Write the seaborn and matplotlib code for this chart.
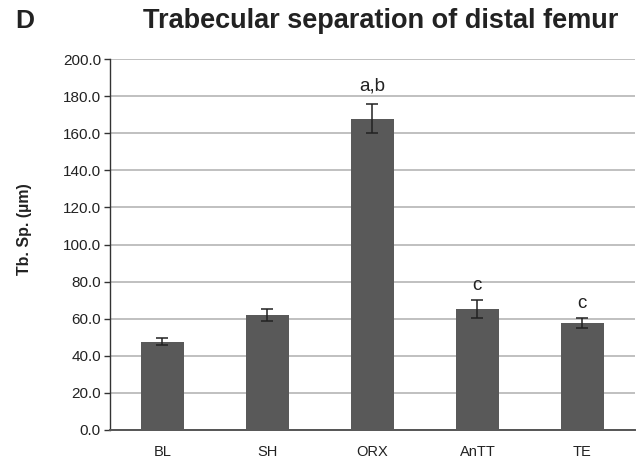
import numpy as np
import pandas as pd
import matplotlib
matplotlib.use("Agg")
import matplotlib.pyplot as plt
import seaborn as sns

# data
groups = ["BL", "SH", "ORX", "AnTT", "TE"]
tb_sp = [47.6, 62.0, 167.9, 65.3, 57.7]
sem = [2.0, 3.0, 7.7, 5.0, 2.8]
marks = ["", "", "a,b", "c", "c"]

sns.set_theme(style="white")
plt.rcParams['font.family'] = ['Liberation Sans', 'DejaVu Sans']

df = pd.DataFrame({"group": groups, "tbsp": tb_sp, "sem": sem})

fig = plt.figure(figsize=(6.37, 4.59), dpi=100)
ax = fig.add_axes([0.1727, 0.0632, 0.824, 0.808])

sns.barplot(data=df, x="group", y="tbsp", color="#595959", saturation=1,
            width=0.41, errorbar=None, linewidth=0, ax=ax, zorder=3)
ax.errorbar(np.arange(len(groups)), df["tbsp"], yerr=df["sem"], fmt="none",
            ecolor="#222222", elinewidth=1.1, capsize=4.2, capthick=1.1, zorder=4)

# significance letters
for i, (v, e, m) in enumerate(zip(tb_sp, sem, marks)):
    if m:
        off = 7 if m == "a,b" else 4
        ax.annotate(m, (i, v + e), xytext=(0, off), textcoords="offset points",
                    ha="center", va="bottom", fontsize=13.5, color="#222222")

ax.set_ylim(0, 200)
ax.set_xlim(-0.5, 4.5)
ax.set_yticks(np.arange(0, 201, 20))
ax.set_yticklabels([f"{t:.1f}" for t in np.arange(0, 201, 20)])
ax.yaxis.grid(True, color="#c0c0c0", linewidth=1.4, zorder=0)
ax.xaxis.grid(False)

for s in ["top", "right"]:
    ax.spines[s].set_visible(False)
ax.spines["left"].set_color("#333333")
ax.spines["bottom"].set_color("#555555")
ax.spines["left"].set_linewidth(1.0)
ax.spines["bottom"].set_linewidth(1.4)

ax.tick_params(axis="y", left=True, length=4.5, width=1.0, color="#333333",
               labelsize=11, labelcolor="#222222", pad=2)
ax.tick_params(axis="x", bottom=False, labelsize=10.5, labelcolor="#222222", pad=5)

ax.set_xlabel("")
ax.set_ylabel("Tb. Sp. (µm)", fontsize=11.5, fontweight="bold", color="#222222")
ax.yaxis.set_label_coords(-0.149, 0.542)

fig.text(0.597, 0.955, "Trabecular separation of distal femur", ha="center", va="center",
         fontsize=19.5, fontweight="bold", color="#222222")
fig.text(0.039, 0.955, "D", ha="center", va="center", fontsize=19, fontweight="bold",
         color="#222222")

fig.savefig("out.png", dpi=100)
